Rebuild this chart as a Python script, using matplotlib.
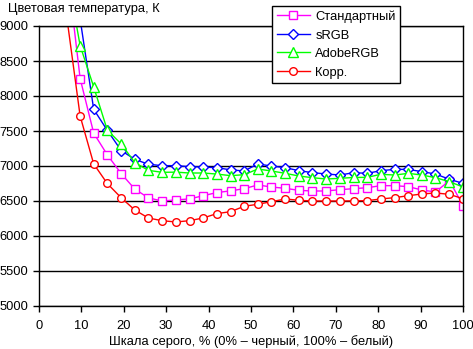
import matplotlib
matplotlib.use("Agg")
import matplotlib.pyplot as plt

plt.rcParams["font.family"] = ["Liberation Sans", "DejaVu Sans"]

# gray level, % (points every 1/31 of the scale)
gray = [6.5, 9.7, 12.9, 16.1, 19.4, 22.6, 25.8, 29.0, 32.3, 35.5, 38.7, 41.9,
        45.2, 48.4, 51.6, 54.8, 58.1, 61.3, 64.5, 67.7, 71.0, 74.2, 77.4, 80.6,
        83.9, 87.1, 90.3, 93.5, 96.8, 100.0]

standard = [9900, 8250, 7470, 7160, 6890, 6670, 6545, 6500, 6515, 6530, 6575, 6620,
            6645, 6676, 6729, 6700, 6681, 6652, 6643, 6643, 6662, 6676, 6690, 6719,
            6719, 6705, 6657, 6629, 6790, 6435]
srgb = [10500, 9100, 7810, 7510, 7220, 7095, 7025, 7005, 7005, 6990, 6985, 6976,
        6945, 6929, 7029, 7000, 6976, 6933, 6905, 6886, 6871, 6905, 6895, 6933,
        6952, 6952, 6919, 6886, 6810, 6752]
adobe = [9800, 8720, 8130, 7514, 7314, 7048, 6938, 6910, 6912, 6900, 6900, 6885,
         6862, 6876, 6957, 6929, 6895, 6857, 6833, 6814, 6824, 6836, 6838, 6881,
         6871, 6895, 6871, 6833, 6776, 6700]
korr = [9150, 7714, 7030, 6750, 6545, 6371, 6257, 6219, 6200, 6219, 6257, 6319,
        6348, 6425, 6453, 6490, 6529, 6510, 6500, 6500, 6500, 6502, 6505, 6529,
        6548, 6576, 6600, 6615, 6595, 6533]

series = [
    ("Стандартный", standard, "#FF00FF", "s", 6.0),
    ("sRGB", srgb, "#0000FF", "D", 5.0),
    ("AdobeRGB", adobe, "#00FF00", "^", 6.5),
    ("Корр.", korr, "#FF0000", "o", 5.5),
]

FS = 9.3

fig = plt.figure(figsize=(4.73, 3.49), dpi=100)
ax = fig.add_axes([39 / 473, 43 / 349, 424 / 473, 280 / 349])

for name, vals, col, mk, ms in series:
    ax.plot(gray, vals, color=col, lw=1, marker=mk, ms=ms,
            mfc="white", mec=col, mew=1, label=name)

ax.set_xlim(0, 100)
ax.set_ylim(5000, 9000)
ax.set_xticks(range(0, 101, 10))
ax.set_yticks(range(5000, 9001, 500))
ax.yaxis.grid(True, color="black", lw=1)
ax.set_axisbelow(True)
for s in ax.spines.values():
    s.set_color("black")
    s.set_linewidth(1)
ax.tick_params(direction="out", length=4, width=1, labelsize=FS)
ax.tick_params(axis="x", pad=6)
ax.tick_params(axis="y", pad=3.5)

ax.set_xlabel("Шкала серого, % (0% – черный, 100% – белый)", fontsize=FS, labelpad=2.5)
fig.text(8 / 473, 1 - 9 / 349, "Цветовая температура, К", fontsize=FS,
         ha="left", va="center")

leg = ax.legend(loc="upper left", bbox_to_anchor=(272 / 473, 1 - 6 / 349),
                bbox_transform=fig.transFigure, fontsize=FS, frameon=True,
                fancybox=False, framealpha=1, edgecolor="black",
                handlelength=2.6, handletextpad=0.4, labelspacing=0.5,
                borderpad=0.35, borderaxespad=0)
leg.get_frame().set_linewidth(1)

fig.savefig("out.png", dpi=100)
